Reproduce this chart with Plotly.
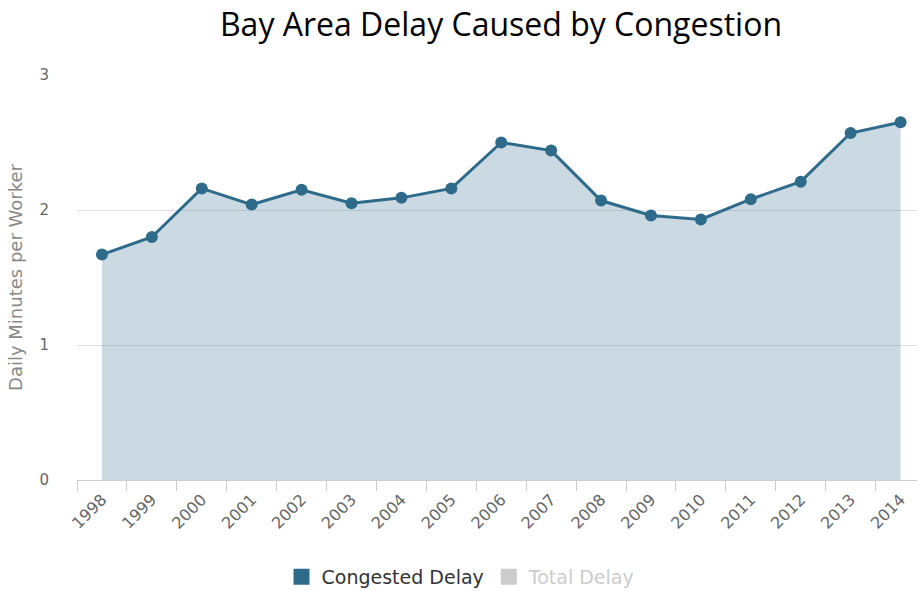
import plotly.graph_objects as go

years = [str(y) for y in range(1998, 2015)]
congested_delay = [1.67, 1.80, 2.16, 2.04, 2.15, 2.05, 2.09, 2.16, 2.50, 2.44,
                   2.07, 1.96, 1.93, 2.08, 2.21, 2.57, 2.65]

line_color = "#2E6B8A"

fig = go.Figure()
fig.add_trace(go.Scatter(
    x=years, y=congested_delay, mode="lines+markers",
    line=dict(color=line_color, width=3),
    marker=dict(color=line_color, size=12),
    fill="tozeroy", fillcolor="rgba(46,107,138,0.25)",
    showlegend=False, name="Congested Delay",
))
fig.add_trace(go.Scatter(
    x=[None], y=[None], mode="markers",
    marker=dict(symbol="square", size=20, color=line_color),
    name="Congested Delay",
))
fig.add_trace(go.Scatter(
    x=[None], y=[None], mode="markers",
    marker=dict(symbol="square", size=20, color="#cccccc"),
    name="<span style='color:#cccccc'>Total Delay</span>",
))

fig.update_layout(
    width=917, height=591,
    margin=dict(l=77, r=0, t=75, b=111),
    paper_bgcolor="white", plot_bgcolor="white",
    title=dict(text="Bay Area Delay Caused by Congestion",
               font=dict(family="Open Sans", size=32, color="#000000"),
               x=501/917, xanchor="center", xref="container",
               y=1-25/591, yanchor="middle", yref="container"),
    legend=dict(orientation="h", x=461/917, xanchor="center", xref="container",
                y=(591-577)/591, yanchor="middle", yref="container",
                font=dict(family="DejaVu Sans", size=19, color="#333333"),
                itemwidth=30, tracegroupgap=0),
    font=dict(family="DejaVu Sans", color="#666666"),
)
fig.update_xaxes(
    type="category", range=[-0.5, 16.33], automargin=False,
    tickangle=-45, tickfont=dict(size=16, color="#666666"),
    ticks="outside", tickson="boundaries", ticklen=10, tickcolor="#cccccc",
    ticklabelstandoff=3,
    showline=True, linecolor="#cccccc", linewidth=1,
    showgrid=False, zeroline=False,
)
fig.update_yaxes(
    range=[0, 3], tickvals=[0, 1, 2, 3], automargin=False,
    tickfont=dict(size=15, color="#666666"),
    showgrid=True, gridcolor="#e0e0e0", gridwidth=1, zeroline=False,
    ticks="", ticklabelstandoff=27,
    title=dict(text="Daily Minutes per Worker", font=dict(size=18, color="#888888"),
               standoff=12),
)

fig.write_html("out.html", config={"displayModeBar": False},
               post_script="document.body.style.margin='0';")
